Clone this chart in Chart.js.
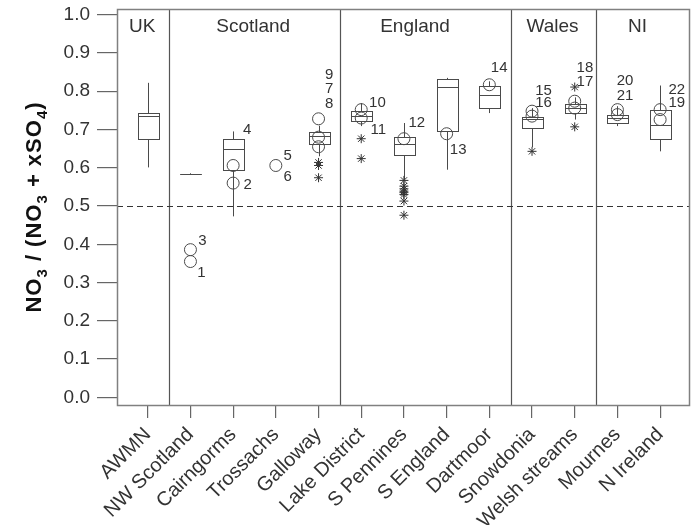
<!DOCTYPE html>
<html><head><meta charset="utf-8">
<script src="https://cdn.jsdelivr.net/npm/chart.js@4"></script>
<style>html,body{margin:0;padding:0;background:#fff;overflow:hidden}#wrap{width:691px;height:525px;position:relative}canvas{display:block}</style>
</head><body><div id="wrap"><canvas id="c"></canvas></div>
<script>
// ---------- data ----------
const categories = ['AWMN','NW Scotland','Cairngorms','Trossachs','Galloway','Lake District','S Pennines','S England','Dartmoor','Snowdonia','Welsh streams','Mournes','N Ireland'];
const whiskerLow  = [0.601, 0.585, 0.473, null, 0.630, 0.709, 0.569, 0.595, 0.743, 0.654, 0.726, 0.709, 0.643];
const q1          = [0.675, 0.585, 0.593, null, 0.662, 0.722, 0.634, 0.695, 0.756, 0.704, 0.743, 0.717, 0.674];
const median      = [0.735, 0.585, 0.648, null, 0.684, 0.735, 0.661, 0.811, 0.791, 0.728, 0.755, 0.730, 0.711];
const q3          = [0.743, 0.585, 0.676, null, 0.694, 0.748, 0.681, 0.832, 0.815, 0.734, 0.767, 0.739, 0.752];
const whiskerHigh = [0.822, 0.585, 0.695, null, 0.710, 0.769, 0.717, 0.835, 0.826, 0.756, 0.784, 0.761, 0.815];

const circleCat = [1, 1, 2, 2, 3, 4, 4, 4, 5, 5, 6, 7, 8, 9, 9, 10, 10, 11, 11, 12, 12];
const circleVal = [0.386, 0.355, 0.606, 0.560, 0.606, 0.728, 0.680, 0.655, 0.752, 0.730, 0.676, 0.689, 0.817, 0.748, 0.735, 0.774, 0.756, 0.752, 0.739, 0.752, 0.726];

const starCat = [4, 4, 4, 5, 5, 6, 6, 6, 6, 6, 6, 6, 6, 9, 10, 10];
const starVal = [0.614, 0.606, 0.574, 0.676, 0.624, 0.567, 0.552, 0.545, 0.539, 0.535, 0.530, 0.513, 0.476, 0.643, 0.811, 0.707];

const siteLabels   = ['3', '1', '4', '2', '5', '6', '9', '7', '8', '10', '11', '12', '13', '14', '15', '16', '18', '17', '20', '21', '22', '19'];
const siteLabelCat = [1.28, 1.26, 2.33, 2.34, 3.28, 3.28, 4.25, 4.25, 4.25, 5.38, 5.40, 6.30, 7.27, 8.23, 9.27, 9.27, 10.24, 10.24, 11.18, 11.18, 12.39, 12.39];
const siteLabelVal = [0.409, 0.325, 0.698, 0.556, 0.630, 0.575, 0.843, 0.806, 0.767, 0.769, 0.698, 0.717, 0.647, 0.861, 0.802, 0.769, 0.861, 0.824, 0.826, 0.788, 0.804, 0.769];

const regions      = ['UK', 'Scotland', 'England', 'Wales', 'NI'];
const regionLabelX = [-0.13, 2.47, 6.26, 9.48, 11.47];
const regionDividers = [0.5, 4.5, 8.5, 10.5];
const yTicks = [0.0, 0.1, 0.2, 0.3, 0.4, 0.5, 0.6, 0.7, 0.8, 0.9, 1.0];
const threshold = 0.5;
const yTitleParts = [['NO', false], ['3', true], [' / (NO', false], ['3', true], [' + xSO', false], ['4', true], [')', false]];

// ---------- drawing ----------
const FONT = "'Liberation Sans', Arial, Helvetica, sans-serif";
const LINE = '#4a4a4a';

const decorPlugin = {
  id: 'decor',
  beforeDatasetsDraw(chart) {
    const {ctx, chartArea: a, scales: {x, y}} = chart;
    ctx.save();
    ctx.strokeStyle = '#555';
    ctx.lineWidth = 1.2;
    regionDividers.forEach(d => {
      const px = Math.round(x.getPixelForValue(d)) + 0.5;
      ctx.beginPath(); ctx.moveTo(px, a.top); ctx.lineTo(px, a.bottom); ctx.stroke();
    });
    ctx.strokeStyle = '#333';
    ctx.lineWidth = 1;
    ctx.setLineDash([6, 4]);
    const ty = Math.round(y.getPixelForValue(threshold)) + 0.5;
    ctx.beginPath(); ctx.moveTo(a.left, ty); ctx.lineTo(a.right, ty); ctx.stroke();
    ctx.setLineDash([]);
    ctx.fillStyle = '#333';
    ctx.font = '19px ' + FONT;
    ctx.textAlign = 'center';
    ctx.textBaseline = 'alphabetic';
    regions.forEach((r, i) => ctx.fillText(r, x.getPixelForValue(regionLabelX[i]), a.top + 23));
    ctx.strokeStyle = LINE;
    ctx.lineWidth = 1;
    categories.forEach((c, i) => {
      if (q1[i] == null) return;
      const cx = Math.round(x.getPixelForValue(i)) + 0.5;
      const hw = x.getPixelForValue(i + 0.25) - x.getPixelForValue(i);
      const l = Math.round(cx - hw) + 0.5, r = Math.round(cx + hw) + 0.5;
      const yq1 = Math.round(y.getPixelForValue(q1[i])) + 0.5;
      const yq3 = Math.round(y.getPixelForValue(q3[i])) + 0.5;
      const ym = Math.round(y.getPixelForValue(median[i])) + 0.5;
      const ylo = y.getPixelForValue(whiskerLow[i]);
      const yhi = y.getPixelForValue(whiskerHigh[i]);
      ctx.beginPath();
      ctx.moveTo(cx, yq3); ctx.lineTo(cx, yhi);
      ctx.moveTo(cx, yq1); ctx.lineTo(cx, ylo);
      ctx.stroke();
      ctx.fillStyle = '#fff';
      if (yq1 - yq3 > 0) ctx.fillRect(l, yq3, r - l, yq1 - yq3);
      ctx.strokeRect(l, yq3, r - l, yq1 - yq3);
      ctx.beginPath(); ctx.moveTo(l, ym); ctx.lineTo(r, ym); ctx.stroke();
    });
    ctx.restore();
  },
  afterDraw(chart) {
    const {ctx, chartArea: a, scales: {x, y}} = chart;
    ctx.save();
    ctx.strokeStyle = '#808080';
    ctx.lineWidth = 1.5;
    ctx.strokeRect(a.left + 0.5, a.top + 0.5, a.right - a.left - 1, a.bottom - a.top);
    ctx.fillStyle = '#333';
    ctx.font = '15px ' + FONT;
    ctx.textAlign = 'center';
    ctx.textBaseline = 'middle';
    siteLabels.forEach((t, i) => ctx.fillText(t, x.getPixelForValue(siteLabelCat[i]), y.getPixelForValue(siteLabelVal[i])));
    const big = 'bold 22px ' + FONT, small = 'bold 15px ' + FONT;
    ctx.letterSpacing = '1px';
    let total = 0;
    yTitleParts.forEach(([t, sub]) => { ctx.font = sub ? small : big; total += ctx.measureText(t).width; });
    ctx.translate(41, (a.top + a.bottom) / 2);
    ctx.rotate(-Math.PI / 2);
    ctx.textAlign = 'left';
    ctx.textBaseline = 'alphabetic';
    ctx.fillStyle = '#111';
    let px = -total / 2;
    yTitleParts.forEach(([t, sub]) => {
      ctx.font = sub ? small : big;
      ctx.fillText(t, px, sub ? 6 : 0);
      px += ctx.measureText(t).width;
    });
    ctx.restore();
  }
};

new Chart(document.getElementById('c'), {
  type: 'scatter',
  data: {
    datasets: [
      {
        label: 'sites',
        data: circleCat.map((c, i) => ({x: c, y: circleVal[i]})),
        pointStyle: 'circle', pointRadius: 6, pointBorderWidth: 1,
        pointBorderColor: LINE, pointBackgroundColor: 'rgba(0,0,0,0)'
      },
      {
        label: 'extremes',
        data: starCat.map((c, i) => ({x: c, y: starVal[i]})),
        pointStyle: 'star', pointRadius: 4.5, pointBorderWidth: 1,
        pointBorderColor: '#333', pointBackgroundColor: 'rgba(0,0,0,0)'
      }
    ]
  },
  options: {
    responsive: true, maintainAspectRatio: false, animation: false,
    devicePixelRatio: 1,
    layout: {autoPadding: false, padding: {top: 9, right: 1, left: 0, bottom: 0}},
    plugins: {legend: {display: false}, tooltip: {enabled: false}},
    scales: {
      x: {
        type: 'linear', min: -0.72, max: 12.7,
        afterBuildTicks: s => { s.ticks = categories.map((c, i) => ({value: i})); },
        afterFit: s => { s.height = 120; s.paddingLeft = 0; s.paddingRight = 0; },
        ticks: {
          autoSkip: false, maxRotation: 45, minRotation: 45, padding: 5,
          color: '#333', font: {family: FONT, size: 20},
          callback: v => categories[v]
        },
        grid: {drawOnChartArea: false, tickLength: 13, color: '#666', lineWidth: 1.2},
        border: {display: false}
      },
      y: {
        min: -0.02, max: 1.015,
        afterBuildTicks: s => { s.ticks = yTicks.map(v => ({value: v})); },
        afterFit: s => { s.width = 117; s.paddingTop = 0; s.paddingBottom = 0; },
        ticks: {
          padding: 7, color: '#333', font: {family: FONT, size: 19},
          callback: v => v.toFixed(1)
        },
        grid: {drawOnChartArea: false, tickLength: 20, color: '#666', lineWidth: 1.2},
        border: {display: false}
      }
    }
  },
  plugins: [decorPlugin]
});
</script></body></html>
